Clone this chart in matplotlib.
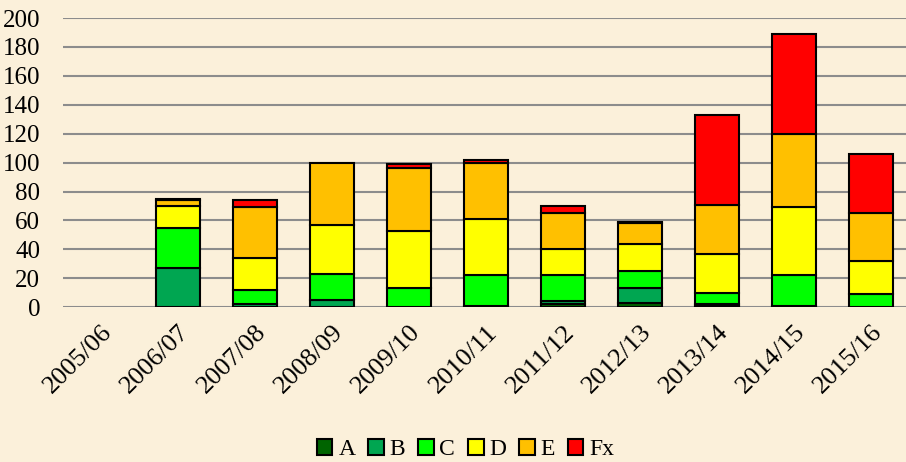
import matplotlib
matplotlib.use("Agg")
import matplotlib.pyplot as plt
import numpy as np

seasons = ["2005/06", "2006/07", "2007/08", "2008/09", "2009/10", "2010/11",
           "2011/12", "2012/13", "2013/14", "2014/15", "2015/16"]
a_vals = [0, 0, 0, 0, 0, 0, 2, 3, 1, 0, 0]
b_vals = [0, 27, 2, 5, 0, 1, 2, 10, 1, 1, 0]
c_vals = [0, 28, 10, 18, 13, 21, 18, 12, 8, 21, 9]
d_vals = [0, 15, 22, 34, 40, 39, 18, 19, 27, 47, 23]
e_vals = [0, 4, 35, 43, 43, 39, 25, 14, 34, 51, 33]
fx_vals = [0, 1, 5, 0, 3, 2, 5, 1, 62, 69, 41]

labels = ["A", "B", "C", "D", "E", "Fx"]
colors = ["#006400", "#00A651", "#00FF00", "#FFFF00", "#FFC000", "#FF0000"]
series = [a_vals, b_vals, c_vals, d_vals, e_vals, fx_vals]

plt.rcParams['font.family'] = ['Liberation Serif', 'DejaVu Serif']

bg = "#FBF0DA"
fig = plt.figure(figsize=(9.06, 4.62), dpi=100, facecolor=bg)
ax = fig.add_axes([0.069, 0.335, 0.935, 0.626])
ax.set_facecolor(bg)

x = np.arange(len(seasons))
bottom = np.zeros(len(seasons))
for vals, lab, col in zip(series, labels, colors):
	vals = np.array(vals, dtype=float)
	#skip empty segments so no outline is drawn for them
	m = vals > 0
	ax.bar(x[m], vals[m], 0.58, bottom=bottom[m], color=col, edgecolor="black",
	       linewidth=1.5, label=lab, zorder=3)
	bottom += vals

ax.set_ylim(0, 200)
ax.set_yticks(range(0, 201, 20))
ax.set_xlim(-0.5, len(seasons) - 0.5)
ax.grid(axis="y", color="#8c8c8c", linewidth=1.5, zorder=0)
for s in ax.spines.values():
	s.set_visible(False)
ax.tick_params(axis="y", length=0, labelsize=18, pad=16)
ax.tick_params(axis="x", length=0, labelsize=19, pad=10)
ax.set_xticks(x)
ax.set_xticklabels(seasons, rotation=45, ha="right", rotation_mode="anchor")

fig.legend(loc="lower center", bbox_to_anchor=(0.514, -0.032), ncol=6, frameon=False,
           fontsize=17, handlelength=0.65, handleheight=0.65, handletextpad=0.25,
           columnspacing=0.55, borderpad=0.2)

fig.savefig("out.png", dpi=100, facecolor=bg)
